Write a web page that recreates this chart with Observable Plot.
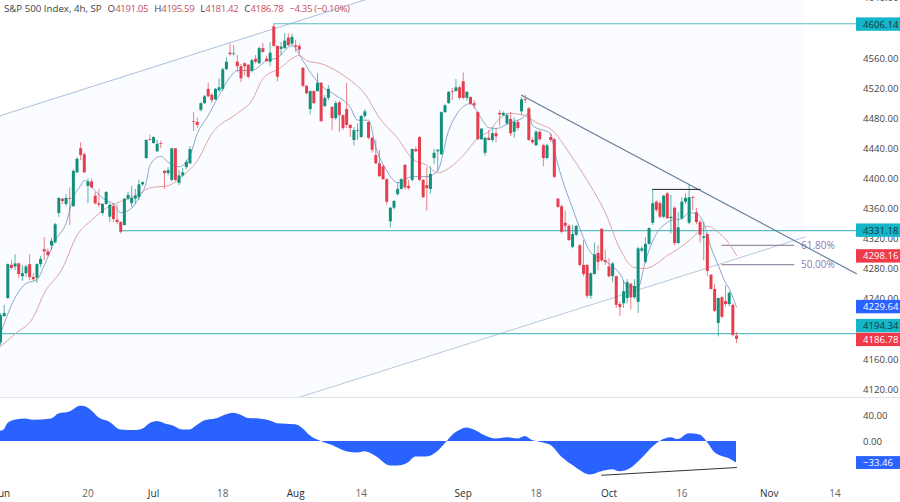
<!DOCTYPE html>
<html>
<head>
<meta charset="utf-8">
<script src="https://cdn.jsdelivr.net/npm/d3@7"></script>
<script src="https://cdn.jsdelivr.net/npm/@observablehq/plot@0.6"></script>
<style>
html,body{margin:0;padding:0;background:#fff;overflow:hidden;width:900px;height:502px}
#wrap{position:relative;width:900px;height:502px}
#wrap svg{display:block}
#head{position:absolute;left:4px;top:2px;font:9.7px "Open Sans",sans-serif;color:#3a3f4a;white-space:nowrap;background:transparent;line-height:14px}
#head b{font-weight:400;color:#c4525f;letter-spacing:-0.4px}
#head span{margin-left:6px}
</style>
</head>
<body>
<div id="wrap"><div id="chart"></div><div id="head">S&amp;P 500 Index, 4h, SP<span>O<b>4191.05</b></span><span>H<b>4195.59</b></span><span>L<b>4181.42</b></span><span>C<b>4186.78</b></span><span><b>−4.35 (−0.10%)</b></span></div></div>
<script>
const opens=[4182,4217,4241,4285,4283,4287,4270,4274,4286,4269,4268,4286,4306,4303,4311,4315,4354,4373,4366,4374,4363,4408,4440,4432,4390,4396,4377,4367,4354,4366,4349,4363,4345,4342,4338,4373,4367,4373,4375,4392,4427,4452,4447,4436,4447,4410,4407,4398,4440,4394,4404,4415,4420,4476,4475,4491,4500,4519,4511,4505,4517,4519,4545,4567,4565,4555,4549,4553,4551,4543,4559,4553,4573,4559,4555,4602,4576,4572,4573,4587,4579,4577,4576,4547,4523,4492,4516,4516,4527,4496,4507,4495,4480,4501,4484,4492,4471,4451,4463,4455,4483,4475,4454,4431,4420,4416,4399,4343,4361,4379,4386,4418,4390,4398,4439,4455,4398,4391,4386,4427,4436,4432,4488,4500,4516,4516,4521,4529,4507,4508,4500,4488,4452,4434,4454,4451,4460,4487,4484,4473,4479,4462,4475,4489,4505,4493,4451,4444,4462,4444,4427,4455,4452,4373,4363,4341,4337,4309,4325,4311,4285,4285,4244,4273,4301,4333,4291,4283,4270,4270,4233,4234,4241,4260,4242,4236,4304,4289,4313,4341,4369,4367,4349,4380,4347,4361,4314,4347,4369,4341,4375,4355,4342,4321,4326,4272,4253,4208,4242,4237,4233,4232,4191.05];
const highs=[4221,4232,4287,4291,4299,4288,4285,4285,4299,4274,4287,4297,4322,4307,4321,4341,4375,4374,4379,4388,4412,4428,4448,4434,4400,4400,4382,4386,4367,4383,4367,4367,4365,4343,4374,4382,4390,4386,4398,4396,4452,4458,4456,4451,4450,4411,4415,4440,4440,4411,4414,4424,4443,4488,4481,4501,4511,4527,4513,4520,4533,4547,4561,4579,4577,4564,4552,4554,4552,4559,4564,4575,4580,4563,4581,4605,4577,4581,4593,4593,4592,4584,4579,4548,4524,4517,4517,4540,4528,4511,4524,4496,4503,4503,4485,4527,4472,4468,4473,4484,4492,4476,4455,4451,4438,4418,4400,4362,4371,4395,4400,4419,4398,4440,4442,4456,4399,4415,4416,4439,4439,4489,4499,4516,4520,4532,4523,4541,4516,4509,4504,4489,4467,4455,4464,4468,4467,4491,4489,4487,4488,4481,4478,4508,4511,4495,4454,4464,4464,4446,4446,4460,4454,4374,4365,4357,4339,4338,4338,4313,4318,4286,4275,4315,4311,4334,4305,4294,4289,4271,4236,4265,4266,4261,4266,4309,4310,4322,4335,4386,4371,4370,4378,4382,4378,4363,4355,4375,4380,4392,4377,4361,4345,4342,4327,4273,4260,4242,4244,4258,4250,4234,4195.59];
const lows=[4178,4216,4240,4279,4278,4268,4264,4269,4265,4264,4261,4282,4291,4297,4305,4314,4349,4366,4363,4338,4362,4407,4424,4407,4367,4387,4365,4362,4351,4365,4342,4342,4339,4327,4337,4371,4362,4366,4371,4390,4426,4450,4446,4435,4440,4386,4404,4396,4396,4391,4402,4412,4419,4463,4467,4489,4499,4508,4500,4504,4515,4516,4544,4563,4563,4541,4528,4537,4533,4541,4553,4552,4567,4555,4549,4575,4529,4564,4572,4576,4577,4568,4565,4521,4512,4485,4499,4515,4475,4495,4504,4464,4478,4462,4464,4467,4455,4444,4451,4454,4480,4452,4434,4419,4402,4398,4365,4335,4359,4377,4385,4385,4385,4396,4435,4396,4374,4357,4380,4419,4410,4431,4487,4499,4504,4515,4505,4505,4503,4497,4493,4451,4451,4430,4450,4448,4448,4470,4483,4471,4456,4454,4464,4485,4500,4450,4446,4443,4450,4416,4426,4448,4400,4361,4327,4329,4317,4307,4323,4283,4270,4241,4240,4272,4278,4289,4285,4268,4262,4228,4217,4228,4234,4226,4240,4221,4302,4287,4311,4338,4355,4347,4347,4346,4327,4311,4313,4345,4366,4339,4358,4339,4315,4291,4270,4252,4222,4190,4214,4230,4230,4190,4181.42];
const closes=[4218,4221,4286,4281,4287,4273,4274,4283,4269,4266,4286,4293,4303,4298,4317,4339,4374,4370,4374,4373,4410,4426,4431,4408,4396,4388,4367,4365,4366,4382,4365,4346,4342,4329,4373,4378,4374,4377,4392,4395,4451,4451,4455,4446,4446,4407,4411,4440,4398,4404,4408,4422,4439,4475,4471,4500,4509,4509,4504,4519,4521,4545,4555,4565,4566,4549,4533,4549,4535,4557,4555,4573,4568,4556,4567,4576,4535,4575,4583,4577,4588,4575,4571,4523,4513,4516,4500,4527,4476,4507,4519,4480,4500,4484,4467,4471,4467,4464,4464,4483,4489,4454,4438,4420,4403,4399,4369,4361,4370,4386,4399,4388,4387,4439,4436,4398,4375,4387,4406,4434,4438,4488,4497,4515,4515,4521,4507,4507,4515,4499,4497,4452,4466,4454,4451,4460,4456,4485,4487,4484,4460,4475,4467,4505,4504,4451,4448,4462,4452,4427,4444,4451,4402,4362,4329,4337,4318,4326,4337,4285,4273,4244,4274,4299,4289,4291,4289,4270,4287,4232,4229,4250,4262,4242,4257,4307,4307,4313,4334,4367,4358,4349,4377,4347,4349,4314,4335,4369,4374,4375,4374,4342,4325,4323,4277,4253,4224,4241,4216,4233,4248,4192,4186.78];

const fastBars=[0,4,7,10,12,15,18,20,22,23,26,29,31,33,36,38,40,41,44,46,49,52,54,57,60,63,65,69,73,76,80,83,86,88,92,96,98,101,103,106,109,113,117,120,123,126,129,132,134,136,140,143,145,146,151,152,154,157,160,162,165,167,170,172,175,177,180,183,184,187,189,191,193,195,197,199,200,202];
const fastMA=[4194,4242,4261,4266,4285,4318,4341,4375,4391,4398,4384,4371,4367,4355,4361,4375,4395,4418,4430,4422,4416,4431,4460,4484,4511,4535,4544,4544,4557,4561,4577,4557,4535,4524,4511,4495,4478,4478,4442,4411,4395,4403,4403,4411,4464,4491,4500,4480,4468,4467,4475,4480,4487,4471,4460,4438,4402,4361,4322,4302,4294,4287,4274,4258,4256,4291,4327,4342,4345,4347,4355,4354,4341,4309,4285,4262,4254,4229.64];
const slowBars=[0,4,9,12,17,21,25,29,33,38,41,46,50,54,58,65,69,72,77,80,82,84,88,92,96,100,104,109,113,117,120,123,127,131,134,137,140,144,147,152,156,161,166,170,174,177,180,183,186,189,192,194,197,200,202];
const slowMA=[4177,4194,4216,4248,4281,4325,4345,4361,4370,4380,4388,4391,4404,4424,4460,4487,4504,4533,4548,4560,4564,4557,4553,4544,4531,4513,4481,4454,4427,4418,4408,4414,4431,4454,4463,4480,4487,4484,4475,4462,4435,4398,4355,4307,4282,4281,4287,4298,4307,4318,4331,4337,4329,4314,4298.16];

const oscBars=[0,1,2,4,7,9,14,16,19,22,23,25,27,30,33,37,39,41,43,46,47,50,52,54,56,59,64,66,68,71,75,76,81,83,85,88,91,95,98,100,103,107,109,112,114,117,120,122,124,126,128,130,133,136,139,142,144,146,148,151,154,157,162,165,168,170,173,176,179,182,184,186,189,192,194,196,199,200,202];
const oscValues=[16,18,27.5,33,35,33,35,43,46,55,54.5,48,37,30,18,17,19,27.5,31,26,25,18,18,25,32,35,44,41,36,35,30,27.5,26,20,9,0,-6,-16,-18,-16,-23,-38,-38,-33,-24,-24,-16,-4,9,17,21,18,9,4,6,4,8,1.5,-1,-6,-24,-37,-52,-47,-44,-47,-42,-27,-9,3,6,3,12,10,-1,-17,-25,-27,-33.46];

const priceTicks=[4640,4560,4520,4480,4440,4400,4360,4320,4280,4240,4160,4120];
const oscTicks=[40,0];
const timeTickBars=[0.6,24,42,61,81,99,127,147,167,187,211,229];
const timeTickLabels=["Jun","20","Jul","18","Aug","14","Sep","18","Oct","16","Nov","14"];
const timeTickStrong=[true,false,true,false,true,false,true,false,true,false,true,false];

const levels=[4606.14,4331.18,4194.34];
const levelStart=[75,33,0];
const priceLabelValues=[4606.14,4331.18,4298.16,4229.64,4194.34,4186.78];
const priceLabelAt=[4605,4331.18,4297,4229.64,4204.4,4186];
const priceLabelKinds=["level","level","sell","ma","level","sell"];
const channelBars=[0,221];
const channelUpper=[4484,4824];
const channelLower=[3984,4323];
const fibBars=[198,218];
const fibLevels=[4311.5,4286];
const fibNames=["61.80%","50.00%"];

const step=736/202, lastBar=900/step, axisEdge=856/step, axisText=862.5/step;
const GREEN="#11907c",RED="#e53e4e",TEAL="#5cbcc2",BLUE="#2962ff",CYAN="#14b6ca";
const kindColor={level:CYAN,sell:"#ee3a4b",ma:BLUE};
const kindText={level:"#16363c",sell:"#fff",ma:"#fff"};
const FONT="'Open Sans',sans-serif";
const bars=opens.map((o,i)=>({i,o,h:highs[i],l:lows[i],c:closes[i],col:closes[i]>=o?GREEN:RED}));
const zip=(xs,ys)=>xs.map((x,k)=>({x,y:ys[k]}));
const fmt=v=>v.toFixed(2);

const channel=[{x:channelBars[0],lo:channelLower[0],up:channelUpper[0]},{x:channelBars[1],lo:channelLower[1],up:channelUpper[1]}];
const priceLabels=priceLabelValues.map((v,k)=>({v,at:priceLabelAt[k],kind:priceLabelKinds[k]}));

const pricePane=Plot.plot({
  width:900,height:397,margin:0,
  style:{background:"transparent",fontFamily:FONT},
  x:{domain:[0,lastBar],range:[0,900],axis:null},
  y:{domain:[4109.5,4637],range:[397,0],axis:null},
  marks:[
    Plot.areaY(channel,{x:"x",y1:"lo",y2:"up",fill:"#fafcff",clip:true}),
    Plot.line(channel,{x:"x",y:"up",stroke:"#a9c1de",strokeWidth:1,clip:true}),
    Plot.line(channel,{x:"x",y:"lo",stroke:"#b4c8e0",strokeWidth:1,clip:true}),
    Plot.ruleY(levels,{x1:(d,k)=>levelStart[k],x2:axisEdge,y:d=>d,stroke:TEAL,strokeWidth:1.1}),
    Plot.ruleY(fibLevels,{x1:fibBars[0],x2:fibBars[1],y:d=>d,stroke:"#9b8fa8",strokeWidth:1.2}),
    Plot.text(fibLevels,{x:fibBars[1]+1.7,y:d=>d,text:(d,k)=>fibNames[k],textAnchor:"start",fill:"#9178b0",fontSize:10}),
    Plot.line(zip(fastBars,fastMA),{x:"x",y:"y",stroke:"#8aa8d0",strokeWidth:1,curve:"monotone-x"}),
    Plot.line(zip(slowBars,slowMA),{x:"x",y:"y",stroke:"#dfa3a6",strokeWidth:1,curve:"monotone-x"}),
    Plot.ruleX(bars,{x:"i",y1:"l",y2:"h",stroke:"col",strokeWidth:0.9,strokeOpacity:0.75}),
    Plot.ruleX(bars,{x:"i",y1:"o",y2:"c",stroke:"col",strokeWidth:3}),
    Plot.line([{x:143,y:4511},{x:axisEdge,y:4274}],{x:"x",y:"y",stroke:"#5d7a98",strokeWidth:1.1}),
    Plot.line([{x:179,y:4386},{x:192,y:4386}],{x:"x",y:"y",stroke:"#222",strokeWidth:1}),
    Plot.text(priceTicks,{x:axisText,y:d=>d,text:fmt,textAnchor:"start",fill:"#444",fontSize:9.6}),
    Plot.rect(priceLabels,{x1:axisEdge,x2:lastBar,y1:d=>d.at-8.9,y2:d=>d.at+8.9,fill:d=>kindColor[d.kind]}),
    Plot.text(priceLabels,{x:axisText,y:"at",text:d=>fmt(d.v),textAnchor:"start",fill:d=>kindText[d.kind],fontSize:9.6})
  ]
});

const oscPane=Plot.plot({
  width:900,height:105,margin:0,
  style:{background:"transparent",fontFamily:FONT},
  x:{domain:[0,lastBar],range:[0,900],axis:null},
  y:{domain:[-94.9,68.5],range:[105,0],axis:null},
  marks:[
    Plot.frame({anchor:"top",stroke:"#e0e3eb"}),
    Plot.areaY(zip(oscBars,oscValues),{x:"x",y:"y",fill:BLUE,curve:"monotone-x"}),
    Plot.line([{x:165,y:-52.5},{x:202,y:-40.5}],{x:"x",y:"y",stroke:"#333",strokeWidth:1}),
    Plot.text(oscTicks,{x:axisText,y:d=>d,text:fmt,textAnchor:"start",fill:"#444",fontSize:9.6}),
    Plot.rect([-33.46],{x1:axisEdge,x2:lastBar,y1:d=>d-10,y2:d=>d+10,fill:BLUE}),
    Plot.text([-33.46],{x:axisText,y:d=>d,text:d=>"−"+Math.abs(d).toFixed(2),textAnchor:"start",fill:"#fff",fontSize:9.6}),
    Plot.text(timeTickBars,{x:d=>d,y:-81,text:(d,k)=>timeTickLabels[k],textAnchor:"middle",fontSize:10,
      fill:(d,k)=>timeTickStrong[k]?"#2a2e39":"#666",fontWeight:(d,k)=>timeTickStrong[k]?600:400})
  ]
});
document.getElementById("chart").append(pricePane,oscPane);
</script>
</body>
</html>
